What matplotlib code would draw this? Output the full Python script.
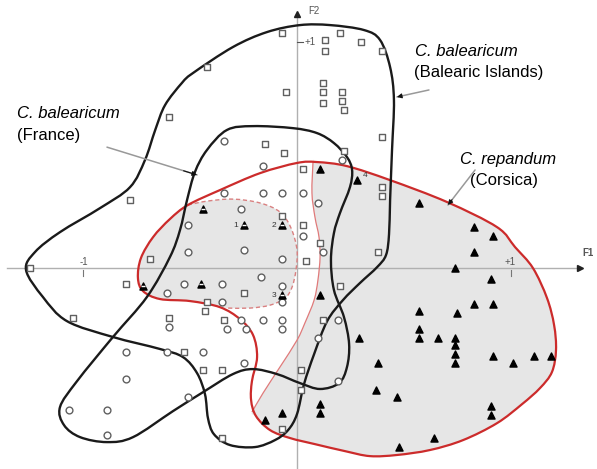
import numpy as np
import matplotlib
matplotlib.use('Agg')
import matplotlib.pyplot as plt
from matplotlib.path import Path
from matplotlib.patches import PathPatch

# PCA scores (F1, F2)
# squares: C. balearicum (Balearic Islands)
sq_f1 = [-0.07, 0.20, 0.13, 0.13, 0.30, 0.40, -0.42, -0.05, -0.60, 0.12, 0.12, 0.12, 0.21, 0.21, 0.22, 0.40,
         -0.15, -0.06, 0.22, -0.78, 0.03, 0.40, 0.40, -0.07, 0.03, 0.11, 0.38, 0.04, -0.25, 0.20, -0.69, -1.25,
         -0.80, -1.05, -0.42, -0.43, -0.60, -0.34, -0.53, -0.44, -0.35, -0.35, -0.07, 0.02, 0.02, 0.12]
sq_f2 = [1.04, 1.04, 1.01, 0.96, 1.00, 0.96, 0.89, 0.78, 0.67, 0.82, 0.78, 0.73, 0.78, 0.74, 0.70, 0.58,
         0.55, 0.51, 0.52, 0.30, 0.44, 0.36, 0.32, 0.23, 0.19, 0.11, 0.07, 0.03, -0.11, -0.08, 0.04, 0.00,
         -0.07, -0.22, -0.15, -0.19, -0.22, -0.23, -0.37, -0.45, -0.45, -0.75, -0.71, -0.45, -0.54, -0.23]

# circles: C. balearicum (France)
ci_f1 = [-0.34, -0.16, 0.21, -0.34, -0.16, -0.07, 0.03, 0.10, -0.26, -0.51, 0.03, 0.12, -0.25, -0.51, -0.07,
         -0.17, -0.53, -0.35, -0.07, -0.61, -0.35, -0.07, -0.60, -0.26, -0.16, -0.07, -0.33, -0.24, -0.07,
         0.10, 0.19, -0.80, -0.61, -0.44, -0.25, -0.80, -0.51, -1.07, -0.89, -0.89, 0.19]
ci_f2 = [0.56, 0.45, 0.48, 0.33, 0.33, 0.33, 0.33, 0.29, 0.26, 0.19, 0.14, 0.07, 0.08, 0.07, 0.04,
         -0.04, -0.07, -0.07, -0.08, -0.11, -0.15, -0.15, -0.26, -0.23, -0.23, -0.23, -0.27, -0.27, -0.27,
         -0.31, -0.23, -0.37, -0.37, -0.37, -0.42, -0.49, -0.57, -0.63, -0.63, -0.74, -0.50]

# filled triangles: C. repandum (Corsica)
tr_f1 = [0.57, 0.83, 0.92, 0.83, 0.74, 0.91, 0.83, 0.92, 0.57, 0.75, 0.57, 0.57, 0.66, 0.74, 0.74, 0.74,
         0.74, 0.92, 1.01, 1.11, 1.19, 0.29, 0.38, 0.37, 0.47, 0.91, 0.91, 0.64, 0.48, 0.11, 0.11, -0.15,
         -0.07, 0.11, 0.28, 0.11]
tr_f2 = [0.29, 0.18, 0.14, 0.07, 0.00, -0.05, -0.16, -0.16, -0.19, -0.20, -0.27, -0.31, -0.31, -0.31, -0.34,
         -0.38, -0.42, -0.39, -0.42, -0.39, -0.39, -0.31, -0.42, -0.54, -0.57, -0.61, -0.65, -0.75, -0.79,
         -0.60, -0.64, -0.67, -0.64, 0.44, 0.39, -0.12]

# striped triangles (inside the dashed group)
ht_f1 = [-0.44, -0.25, -0.07, -0.72, -0.45, -0.07]
ht_f2 = [0.26, 0.19, 0.19, -0.08, -0.07, -0.12]

# numbered individuals
num_labels = ['1', '2', '3', '4']
num_f1 = [-0.25, -0.07, -0.07, 0.28]
num_f2 = [0.19, 0.19, -0.12, 0.39]

# envelopes
bal_isl_f1 = [0.014, 0.155, 0.314, 0.389, 0.436, 0.454, 0.445, 0.436, 0.431, 0.417, 0.375, 0.295, 0.215, 0.141,
              0.080, 0.033, 0.0, -0.042, -0.103, -0.197, -0.314, -0.389, -0.417, -0.431, -0.468, -0.534,
              -0.642, -0.862, -1.077, -1.190, -1.269, -1.227, -1.110, -0.923, -0.782, -0.712, -0.664,
              -0.618, -0.539, -0.487, -0.300, -0.141]
bal_isl_f2 = [1.075, 1.075, 1.053, 1.009, 0.889, 0.743, 0.522, 0.301, 0.150, 0.058, 0.004, -0.066, -0.142, -0.235,
              -0.381, -0.513, -0.646, -0.717, -0.761, -0.792, -0.783, -0.735, -0.664, -0.558, -0.465, -0.394,
              -0.358, -0.305, -0.235, -0.128, -0.009, 0.071, 0.159, 0.265, 0.358, 0.478, 0.611,
              0.721, 0.819, 0.863, 0.978, 1.044]

bal_fr_f1 = [-0.422, -0.328, -0.206, -0.019, 0.094, 0.173, 0.234, 0.258, 0.248, 0.201, 0.173, 0.159, 0.173,
             0.220, 0.244, 0.234, 0.197, 0.108, 0.014, -0.094, -0.206, -0.300, -0.440, -0.581, -0.768, -0.890,
             -1.016, -1.091, -1.110, -1.030, -0.862, -0.703, -0.595, -0.548, -0.515, -0.478]
bal_fr_f2 = [0.522, 0.611, 0.628, 0.619, 0.597, 0.553, 0.491, 0.434, 0.358, 0.243, 0.155, 0.035, -0.097,
             -0.217, -0.336, -0.438, -0.509, -0.535, -0.509, -0.469, -0.447, -0.469, -0.549, -0.633, -0.748,
             -0.770, -0.748, -0.695, -0.615, -0.500, -0.305, -0.128, 0.049, 0.168, 0.301, 0.425]

rep_f1 = [0.0, 0.094, 0.234, 0.436, 0.703, 0.937, 1.021, 1.105, 1.171, 1.204, 1.213, 1.194, 1.138, 1.054,
          0.937, 0.778, 0.623, 0.468, 0.342, 0.225, 0.084, -0.033, -0.126, -0.192, -0.215, -0.211, -0.187,
          -0.206, -0.267, -0.361, -0.501, -0.642, -0.721, -0.745, -0.731, -0.674, -0.595, -0.511, -0.361, -0.173]
rep_f2 = [0.465, 0.469, 0.451, 0.389, 0.292, 0.181, 0.093, 0.0, -0.133, -0.252, -0.363, -0.460, -0.531, -0.602,
          -0.686, -0.761, -0.805, -0.827, -0.832, -0.810, -0.779, -0.752, -0.717, -0.655, -0.584, -0.500, -0.394,
          -0.296, -0.226, -0.173, -0.146, -0.137, -0.102, -0.044, 0.044, 0.137, 0.217, 0.279, 0.345, 0.420]

# thin red split line and dashed sub-group
thin_f1 = [0.075, 0.070, 0.084, 0.103, 0.108, 0.098, 0.080, 0.037, 0.0, -0.080, -0.159, -0.211]
thin_f2 = [0.469, 0.332, 0.226, 0.137, 0.049, -0.053, -0.142, -0.243, -0.319, -0.438, -0.553, -0.637]
dash_f1 = [-0.511, -0.422, -0.300, -0.173, -0.080, -0.028, 0.0, -0.005, -0.023, -0.056, -0.126, -0.220, -0.323]
dash_f2 = [0.279, 0.296, 0.305, 0.288, 0.248, 0.177, 0.080, -0.009, -0.084, -0.133, -0.164, -0.177, -0.177]


def smooth_path(xs, ys, closed=True):
    # Catmull-Rom through the points, drawn as cubic Bezier segments
    P = np.column_stack([xs, ys]).astype(float)
    n = len(P)
    verts = [P[0]]
    codes = [Path.MOVETO]
    for i in range(n if closed else n - 1):
        p0 = P[i - 1] if (closed or i > 0) else P[i]
        p1 = P[i]
        p2 = P[(i + 1) % n]
        p3 = P[(i + 2) % n] if (closed or i + 2 < n) else P[i + 1]
        verts += [p1 + (p2 - p0) / 6, p2 - (p3 - p1) / 6, p2]
        codes += [Path.CURVE4] * 3
    if closed:
        verts.append(P[0])
        codes.append(Path.CLOSEPOLY)
    return Path(verts, codes)


plt.rcParams['font.family'] = ['Liberation Sans', 'DejaVu Sans']

fig = plt.figure(figsize=(5.97, 4.69), dpi=100)
ax = fig.add_axes([0, 0, 1, 1])
ax.set_xlim(-1.391, 1.405)
ax.set_ylim(-0.889, 1.186)
ax.axis('off')

grey = '#e6e6e6'
red = '#cc2b2b'

# grey areas
right_x = thin_f1 + rep_f1[23:0:-1]
right_y = thin_f2 + rep_f2[23:0:-1]
ax.add_patch(PathPatch(smooth_path(right_x, right_y), fc=grey, ec='none', zorder=1))
left_x = dash_f1 + rep_f1[29:37]
left_y = dash_f2 + rep_f2[29:37]
ax.add_patch(PathPatch(smooth_path(left_x, left_y), fc=grey, ec='none', zorder=1))

# axes
axc = '#b0b0b0'
ax.plot([-1.358, 1.32], [0, 0], color=axc, lw=1, zorder=2)
ax.plot([0, 0], [-0.889, 1.11], color=axc, lw=1, zorder=2)
ax.plot([1.326], [0], marker='>', color='#222222', ms=5, zorder=6)
ax.plot([0], [1.122], marker='^', color='#222222', ms=5, zorder=6)
ax.text(1.363, 0.066, 'F1', fontsize=7, color='#555555', ha='center', va='center', fontweight='bold')
ax.text(0.080, 1.137, 'F2', fontsize=7, color='#555555', ha='center', va='center')
ax.plot([1.0, 1.0], [-0.01, -0.035], color='#777777', lw=0.8, zorder=2)
ax.text(1.0, 0.005, '+1', fontsize=7, color='#555555', ha='center', va='bottom')
ax.plot([-1.0, -1.0], [-0.01, -0.035], color='#777777', lw=0.8, zorder=2)
ax.text(-1.0, 0.005, '-1', fontsize=7, color='#555555', ha='center', va='bottom')
ax.plot([0.0, 0.03], [1.0, 1.0], color='#555555', lw=0.8, zorder=2)
ax.text(0.035, 1.0, '+1', fontsize=7, color='#555555', ha='left', va='center')

# envelopes
ax.add_patch(PathPatch(smooth_path(thin_f1, thin_f2, closed=False), fc='none', ec='#e07a7a', lw=0.9, zorder=3))
ax.add_patch(PathPatch(smooth_path(dash_f1, dash_f2, closed=False), fc='none', ec='#d98080', lw=1.0,
                       ls=(0, (3, 2)), zorder=3))
ax.add_patch(PathPatch(smooth_path(rep_f1, rep_f2), fc='none', ec=red, lw=1.6, zorder=4))
ax.add_patch(PathPatch(smooth_path(bal_isl_f1, bal_isl_f2), fc='none', ec='#1a1a1a', lw=1.7, zorder=4))
ax.add_patch(PathPatch(smooth_path(bal_fr_f1, bal_fr_f2), fc='none', ec='#1a1a1a', lw=1.7, zorder=4))

# points
edge = '#606060'
ax.scatter(sq_f1, sq_f2, marker='s', s=22, facecolors='white', edgecolors=edge, linewidths=1.0, zorder=5)
ax.scatter(ci_f1, ci_f2, marker='o', s=24, facecolors='white', edgecolors=edge, linewidths=1.0, zorder=5)
ax.scatter(tr_f1, tr_f2, marker='^', s=26, color='black', zorder=5)
ax.scatter(ht_f1, ht_f2, marker='^', s=26, color='black', zorder=5)
ax.scatter(ht_f1, ht_f2, marker='_', s=8, color='white', linewidths=1.0, zorder=6)

for lab, x, y in zip(num_labels, num_f1, num_f2):
    off = (6, 3) if lab == '4' else (-6, 0)
    ax.annotate(lab, (x, y), xytext=off, textcoords='offset points', fontsize=6,
                color='#333333', ha='center', va='center', zorder=6)

# group labels with arrows
labels = [
    ('C. balearicum', '(France)', (-1.311, 0.686), (-1.311, 0.588), (-0.890, 0.535), (-0.468, 0.412)),
    ('C. balearicum', '(Balearic Islands)', (0.553, 0.956), (0.548, 0.867), (0.618, 0.788), (0.468, 0.757)),
    ('C. repandum', '(Corsica)', (0.763, 0.482), (0.810, 0.389), (0.834, 0.434), (0.707, 0.279)),
]
for name, place, p1, p2, tail, head in labels:
    ax.text(p1[0], p1[1], name, fontsize=12, style='italic', ha='left', va='center')
    ax.text(p2[0], p2[1], place, fontsize=12, ha='left', va='center')
    ax.annotate('', xy=head, xytext=tail,
                arrowprops=dict(arrowstyle='-', color='#999999', lw=1.1, shrinkA=0, shrinkB=0), zorder=6)
    near = (head[0] + 0.15 * (tail[0] - head[0]), head[1] + 0.15 * (tail[1] - head[1]))
    ax.annotate('', xy=head, xytext=near,
                arrowprops=dict(arrowstyle='-|>', color='#111111', lw=0.8, mutation_scale=7,
                                shrinkA=0, shrinkB=0), zorder=6)

plt.savefig('out.png', dpi=100)
